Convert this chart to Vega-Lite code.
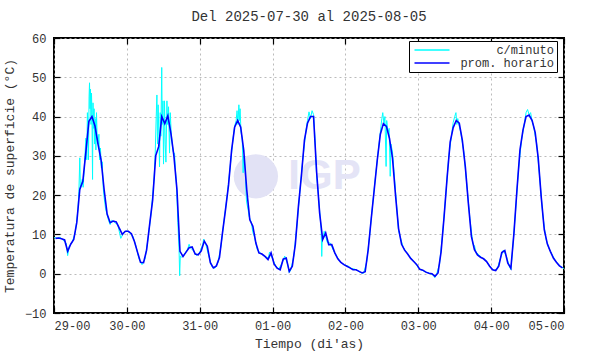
{
"$schema":"https://vega.github.io/schema/vega-lite/v6.json",
"width":510,"height":275,
"autosize":{"type":"none"},
"padding":{"left":54,"top":38,"right":26,"bottom":41},
"background":"white",
"title":{"text":"Del 2025-07-30 al 2025-08-05","font":"Liberation Mono","fontSize":14,"fontWeight":"normal","color":"#333","offset":8},
"config":{"font":"Liberation Mono","view":{"stroke":"#000","strokeWidth":2},"axis":{"labelFont":"Liberation Mono","titleFont":"Liberation Mono","labelFontSize":12,"titleFontSize":13,"titleFontWeight":"normal","labelColor":"#333","titleColor":"#333","domain":false,"tickColor":"#000","tickWidth":1.2,"tickSize":-6,"gridColor":"#aaa","gridDash":[2,3],"gridWidth":0.8},"legend":{"labelFont":"Liberation Mono"}},
"datasets":{
"horario":[{"h":0.5,"v":9},{"h":1.5,"v":9.1},{"h":2.5,"v":8.9},{"h":3.5,"v":8.6},{"h":4.5,"v":5.7},{"h":5.5,"v":7.5},{"h":6.5,"v":8.7},{"h":7.5,"v":13},{"h":8.5,"v":21.5},{"h":9.5,"v":23.5},{"h":10.5,"v":31},{"h":11.5,"v":38.8},{"h":12.5,"v":40},{"h":13.5,"v":37.6},{"h":14.5,"v":33},{"h":15.5,"v":29},{"h":16.5,"v":21.5},{"h":17.5,"v":15.2},{"h":18.5,"v":13},{"h":19.5,"v":13.4},{"h":20.5,"v":13.2},{"h":21.5,"v":11.6},{"h":22.5,"v":10},{"h":23.5,"v":10.8},
{"h":24.5,"v":10.8},{"h":25.5,"v":10.2},{"h":26.5,"v":8.2},{"h":27.5,"v":5.5},{"h":28.5,"v":2.9},{"h":29.5,"v":2.8},{"h":30.5,"v":6},{"h":31.5,"v":12.5},{"h":32.5,"v":18.8},{"h":33.5,"v":30},{"h":34.5,"v":32.4},{"h":35.5,"v":40},{"h":36.5,"v":38.2},{"h":37.5,"v":40.2},{"h":38.5,"v":35.8},{"h":39.5,"v":30},{"h":40.5,"v":21.4},{"h":41.5,"v":5.7},{"h":42.5,"v":4.4},{"h":43.5,"v":5.5},{"h":44.5,"v":6.6},{"h":45.5,"v":6.8},{"h":46.5,"v":5},{"h":47.5,"v":4.8},
{"h":48.5,"v":5.8},{"h":49.5,"v":8.3},{"h":50.5,"v":7},{"h":51.5,"v":2.8},{"h":52.5,"v":1.5},{"h":53.5,"v":2},{"h":54.5,"v":4.1},{"h":55.5,"v":10.4},{"h":56.5,"v":16.3},{"h":57.5,"v":22.6},{"h":58.5,"v":31.4},{"h":59.5,"v":37.3},{"h":60.5,"v":39},{"h":61.5,"v":37.3},{"h":62.5,"v":31.4},{"h":63.5,"v":21.3},{"h":64.5,"v":13.7},{"h":65.5,"v":12.1},{"h":66.5,"v":7.8},{"h":67.5,"v":5.3},{"h":68.5,"v":5},{"h":69.5,"v":4.4},{"h":70.5,"v":3.6},{"h":71.5,"v":5.3},
{"h":72.5,"v":2.5},{"h":73.5,"v":1.4},{"h":74.5,"v":1},{"h":75.5,"v":3.7},{"h":76.5,"v":4},{"h":77.5,"v":0.6},{"h":78.5,"v":1.9},{"h":79.5,"v":7.5},{"h":80.5,"v":17},{"h":81.5,"v":25},{"h":82.5,"v":34},{"h":83.5,"v":38.3},{"h":84.5,"v":40},{"h":85.5,"v":40},{"h":86.5,"v":26},{"h":87.5,"v":15.5},{"h":88.5,"v":8.7},{"h":89.5,"v":10.4},{"h":90.5,"v":7.4},{"h":91.5,"v":7.4},{"h":92.5,"v":5.3},{"h":93.5,"v":3.8},{"h":94.5,"v":2.9},{"h":95.5,"v":2.3},
{"h":96.5,"v":1.9},{"h":97.5,"v":1.5},{"h":98.5,"v":1},{"h":99.5,"v":1},{"h":100.5,"v":0.6},{"h":101.5,"v":0.2},{"h":102.5,"v":0.5},{"h":103.5,"v":6.1},{"h":104.5,"v":14},{"h":105.5,"v":21.5},{"h":106.5,"v":29},{"h":107.5,"v":35.5},{"h":108.5,"v":38.2},{"h":109.5,"v":37.5},{"h":110.5,"v":34.5},{"h":111.5,"v":29.5},{"h":112.5,"v":20},{"h":113.5,"v":11.5},{"h":114.5,"v":7.5},{"h":115.5,"v":6},{"h":116.5,"v":5},{"h":117.5,"v":3.9},{"h":118.5,"v":3.1},{"h":119.5,"v":2.3},
{"h":120.5,"v":1.1},{"h":121.5,"v":0.9},{"h":122.5,"v":0.4},{"h":123.5,"v":0.1},{"h":124.5,"v":0},{"h":125.5,"v":-0.7},{"h":126.5,"v":0.2},{"h":127.5,"v":5.5},{"h":128.5,"v":14.5},{"h":129.5,"v":24.5},{"h":130.5,"v":33.5},{"h":131.5,"v":37.2},{"h":132.5,"v":39},{"h":133.5,"v":38.3},{"h":134.5,"v":34},{"h":135.5,"v":27.2},{"h":136.5,"v":17.9},{"h":137.5,"v":9.5},{"h":138.5,"v":6.1},{"h":139.5,"v":4.8},{"h":140.5,"v":4.2},{"h":141.5,"v":3.8},{"h":142.5,"v":3.1},{"h":143.5,"v":1.9},
{"h":144.5,"v":1},{"h":145.5,"v":0.8},{"h":146.5,"v":1.9},{"h":147.5,"v":5.4},{"h":148.5,"v":5.9},{"h":149.5,"v":2.7},{"h":150.5,"v":1.4},{"h":151.5,"v":10.2},{"h":152.5,"v":21.3},{"h":153.5,"v":31.5},{"h":154.5,"v":36.6},{"h":155.5,"v":40},{"h":156.5,"v":40.4},{"h":157.5,"v":39},{"h":158.5,"v":36},{"h":159.5,"v":29.5},{"h":160.5,"v":19.5},{"h":161.5,"v":11.2},{"h":162.5,"v":7.6},{"h":163.5,"v":5.7},{"h":164.5,"v":4},{"h":165.5,"v":2.9},{"h":166.5,"v":2},{"h":167.5,"v":1.5}],
"minuto":[{"h":0,"v":9.2},{"h":1,"v":9},{"h":2,"v":9.3},{"h":3,"v":8.5},{"h":4,"v":7.8},{"h":4.5,"v":4.6},{"h":5,"v":7},{"h":6,"v":8},{"h":7,"v":10.5},{"h":7.5,"v":13.5},{"h":7.9,"v":16.5},{"h":8.2,"v":21},{"h":8.5,"v":29.5},{"h":8.7,"v":21.5},{"h":9,"v":22.5},{"h":9.3,"v":24},{"h":9.6,"v":22},{"h":9.9,"v":26},{"h":10.2,"v":30},{"h":10.5,"v":34.5},{"h":10.8,"v":29},{"h":11,"v":41},{"h":11.2,"v":37.5},{"h":11.35,"v":29},{"h":11.55,"v":45},{"h":11.7,"v":48.6},{"h":11.85,"v":42},{"h":12,"v":47},{"h":12.2,"v":38},{"h":12.35,"v":46},{"h":12.5,"v":41},{"h":12.7,"v":24},{"h":12.85,"v":43.5},{"h":13,"v":37},{"h":13.2,"v":42},{"h":13.4,"v":33},{"h":13.6,"v":39.5},{"h":13.8,"v":31.5},{"h":14,"v":41},{"h":14.2,"v":35},{"h":14.5,"v":33},{"h":14.8,"v":35.5},{"h":15,"v":29},{"h":15.3,"v":32},{"h":15.6,"v":27},{"h":15.9,"v":28.5},{"h":16.2,"v":22},{"h":16.5,"v":19.5},{"h":17,"v":16.5},{"h":17.5,"v":15},{"h":18,"v":13.5},{"h":18.5,"v":12.5},{"h":19,"v":13.6},{"h":20,"v":13},{"h":21,"v":12.5},{"h":22,"v":9},{"h":23,"v":10.5},
{"h":24,"v":10.9},{"h":25,"v":10.4},{"h":26,"v":9.5},{"h":27,"v":7},{"h":28,"v":3.8},{"h":29,"v":2.3},{"h":30,"v":3.8},{"h":31,"v":9},{"h":32,"v":15.5},{"h":33,"v":24.5},{"h":33.34,"v":30.5},{"h":33.67,"v":40},{"h":33.9,"v":45.5},{"h":34.1,"v":33},{"h":34.3,"v":43},{"h":34.56,"v":35},{"h":34.76,"v":27.2},{"h":35,"v":41},{"h":35.2,"v":35},{"h":35.49,"v":52.5},{"h":35.65,"v":38},{"h":35.9,"v":44},{"h":36.08,"v":27.9},{"h":36.4,"v":44},{"h":36.64,"v":33},{"h":36.87,"v":28.4},{"h":37.2,"v":44},{"h":37.4,"v":38},{"h":37.73,"v":42.5},{"h":38.06,"v":30.7},{"h":38.3,"v":41},{"h":38.6,"v":36},{"h":38.95,"v":33},{"h":39.28,"v":31},{"h":39.7,"v":30.7},{"h":39.94,"v":27},{"h":40.4,"v":22},{"h":40.8,"v":13},{"h":41.2,"v":6},{"h":41.4,"v":-0.5},{"h":41.6,"v":4.5},{"h":42,"v":4.2},{"h":43,"v":5},{"h":44,"v":6.2},{"h":44.5,"v":7.5},{"h":45,"v":6.5},{"h":46,"v":5.8},{"h":47,"v":4.6},
{"h":48,"v":5.4},{"h":49,"v":7.5},{"h":49.3,"v":8.8},{"h":50,"v":7.5},{"h":51,"v":4.5},{"h":52,"v":1.8},{"h":53,"v":1.4},{"h":54,"v":2.8},{"h":55,"v":7},{"h":56,"v":13.5},{"h":57,"v":19.5},{"h":58,"v":27},{"h":59,"v":34.5},{"h":59.5,"v":37.5},{"h":60,"v":39},{"h":60.3,"v":41.5},{"h":60.6,"v":38},{"h":60.9,"v":43},{"h":61.1,"v":39},{"h":61.3,"v":42},{"h":61.6,"v":36},{"h":62,"v":34.5},{"h":62.3,"v":25.7},{"h":62.5,"v":30},{"h":63,"v":26},{"h":63.4,"v":18.5},{"h":64,"v":16},{"h":64.3,"v":14.5},{"h":65,"v":13},{"h":65.5,"v":10.5},{"h":66,"v":9.5},{"h":67,"v":6},{"h":68,"v":5.3},{"h":69,"v":4.6},{"h":70,"v":4.2},{"h":70.6,"v":4},{"h":71,"v":5.5},
{"h":72,"v":3.8},{"h":73,"v":2},{"h":74,"v":1.2},{"h":75,"v":2.5},{"h":76,"v":4.5},{"h":77,"v":2.3},{"h":77.5,"v":0.3},{"h":78,"v":1},{"h":79,"v":4.5},{"h":80,"v":12},{"h":81,"v":21},{"h":82,"v":29.5},{"h":83,"v":36.5},{"h":83.5,"v":39},{"h":84,"v":41.2},{"h":84.5,"v":39.5},{"h":85,"v":41.5},{"h":85.5,"v":40.5},{"h":86,"v":34},{"h":86.5,"v":25},{"h":87,"v":21},{"h":87.5,"v":16},{"h":88,"v":11.5},{"h":88.2,"v":4.4},{"h":88.4,"v":9.5},{"h":88.6,"v":9},{"h":89,"v":10.8},{"h":89.5,"v":9.5},{"h":90,"v":8},{"h":91,"v":7.8},{"h":92,"v":6},{"h":93,"v":4.6},{"h":94,"v":3.3},{"h":95,"v":2.6},
{"h":96,"v":2.1},{"h":97,"v":1.9},{"h":98,"v":1.3},{"h":99,"v":1.2},{"h":100,"v":0.8},{"h":101,"v":0.3},{"h":102,"v":0.1},{"h":103,"v":3},{"h":104,"v":10},{"h":105,"v":18},{"h":106,"v":25.5},{"h":107,"v":32.5},{"h":107.7,"v":37.5},{"h":108,"v":39.5},{"h":108.3,"v":41},{"h":108.7,"v":38},{"h":109,"v":40},{"h":109.4,"v":27.3},{"h":109.6,"v":39},{"h":110,"v":36},{"h":110.4,"v":37},{"h":110.75,"v":24.8},{"h":111,"v":33},{"h":111.5,"v":31},{"h":112,"v":26},{"h":113,"v":16},{"h":113.5,"v":11},{"h":114,"v":9.5},{"h":115,"v":6.8},{"h":116,"v":5.6},{"h":117,"v":4.6},{"h":118,"v":3.5},{"h":119,"v":2.8},
{"h":120,"v":1.5},{"h":121,"v":1},{"h":122,"v":0.6},{"h":123,"v":0.3},{"h":124,"v":0},{"h":125,"v":-0.4},{"h":125.4,"v":-1},{"h":126,"v":-0.2},{"h":127,"v":2.5},{"h":128,"v":10},{"h":129,"v":19.5},{"h":130,"v":29.5},{"h":131,"v":35.5},{"h":131.5,"v":38.5},{"h":132,"v":40},{"h":132.4,"v":41},{"h":132.7,"v":38},{"h":133,"v":39.5},{"h":133.5,"v":37.5},{"h":134,"v":36},{"h":135,"v":31},{"h":136,"v":22.5},{"h":137,"v":14},{"h":138,"v":7.5},{"h":138.5,"v":7.2},{"h":139,"v":5.5},{"h":140,"v":4.8},{"h":141,"v":4},{"h":142,"v":3.6},{"h":143,"v":2.6},
{"h":144,"v":1.4},{"h":145,"v":0.8},{"h":146,"v":1.2},{"h":147,"v":3.8},{"h":148,"v":6},{"h":149,"v":4.5},{"h":150,"v":1.9},{"h":150.5,"v":1},{"h":151,"v":5.5},{"h":152,"v":15.5},{"h":153,"v":26.5},{"h":154,"v":34},{"h":155,"v":38.5},{"h":155.5,"v":41},{"h":156,"v":41.8},{"h":156.5,"v":40.5},{"h":157,"v":41},{"h":157.5,"v":38.8},{"h":158,"v":37.5},{"h":159,"v":33},{"h":160,"v":24.5},{"h":161,"v":15},{"h":162,"v":9},{"h":163,"v":6.5},{"h":164,"v":5},{"h":165,"v":3.5},{"h":166,"v":2.5},{"h":167,"v":1.8},{"h":168,"v":1.3}]
},
"resolve":{"axis":{"x":"independent","y":"independent"}},
"layer":[
{"data":{"values":[{"h":66.5,"v":24.8}]},"mark":{"type":"point","shape":"circle","filled":true,"size":1960,"color":"#e2e2f5","opacity":1},
 "encoding":{"x":{"field":"h","type":"quantitative","axis":null,"scale":{"domain":[0,168],"nice":false,"zero":false}},"y":{"field":"v","type":"quantitative","axis":null,"scale":{"domain":[-10,60],"nice":false,"zero":false}}}},
{"data":{"values":[{"h":77.2,"v":24.8,"t":"IGP"}]},"mark":{"type":"text","font":"Liberation Sans","fontWeight":"bold","fontSize":42,"color":"#e4e4f6","align":"left","baseline":"middle"},
 "encoding":{"x":{"field":"h","type":"quantitative","axis":null},"y":{"field":"v","type":"quantitative","axis":null},"text":{"field":"t"}}},
{"data":{"name":"minuto"},"mark":{"type":"line","strokeWidth":1,"clip":true},
 "encoding":{
  "x":{"field":"h","type":"quantitative","scale":{"domain":[0,168],"nice":false,"zero":false},"axis":{"values":[0,24,48,72,96,120,144,168],"labelExpr":"['29-00','30-00','31-00','01-00','02-00','03-00','04-00','05-00'][round(datum.value/24)]","title":"Tiempo (di'as)","grid":true,"labelPadding":13,"titlePadding":6}},
  "y":{"field":"v","type":"quantitative","scale":{"domain":[-10,60],"nice":false,"zero":false},"axis":{"values":[-10,0,10,20,30,40,50,60],"title":"Temperatura de superficie (°C)","grid":true,"labelPadding":14,"titlePadding":8}},
  "color":{"datum":"c/minuto","type":"nominal","scale":{"domain":["c/minuto","prom. horario"],"range":["#00ffff","#0000ff"]},
   "legend":{"orient":"none","legendX":355,"legendY":3,"title":null,"strokeColor":"#000","fillColor":"#fff","padding":3,"symbolType":"M-3.5,0H3.5","symbolSize":100,"symbolOffset":14,"symbolStrokeWidth":1.5,"labelFont":"Liberation Mono","labelFontSize":12,"labelColor":"#333","labelAlign":"right","labelOffset":116,"rowPadding":1}}}},
{"data":{"name":"horario"},"mark":{"type":"line","strokeWidth":1.6,"clip":true},
 "encoding":{
  "x":{"field":"h","type":"quantitative","axis":{"orient":"top","values":[0,24,48,72,96,120,144,168],"labels":false,"title":null,"grid":false}},
  "y":{"field":"v","type":"quantitative","axis":{"orient":"right","values":[-10,0,10,20,30,40,50,60],"labels":false,"title":null,"grid":false}},
  "color":{"datum":"prom. horario","type":"nominal"}}}
]
}
